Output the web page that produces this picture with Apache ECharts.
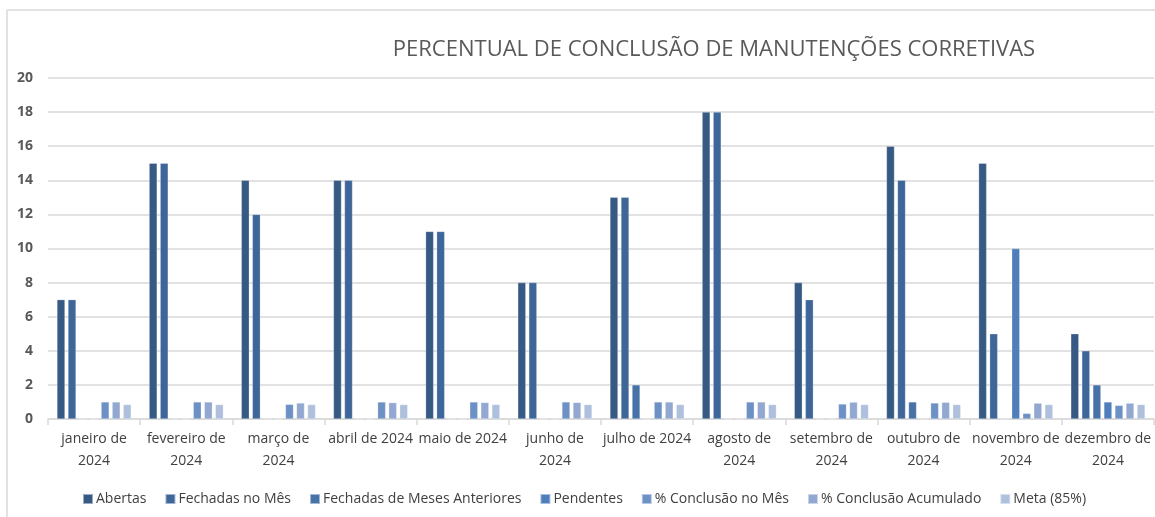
<!DOCTYPE html>
<html>
<head>
<meta charset="utf-8">
<script src="https://cdn.jsdelivr.net/npm/echarts@6/dist/echarts.min.js"></script>
<style>
  html, body { margin: 0; padding: 0; background: #fff; }
  #chart { width: 1155px; height: 517px; }
</style>
</head>
<body>
<div id="chart"></div>
<script>
  // meses (quebra de linha igual ao original)
  const categories = [
    'janeiro de\n2024', 'fevereiro de\n2024', 'março de\n2024', 'abril de 2024',
    'maio de 2024', 'junho de\n2024', 'julho de 2024', 'agosto de\n2024',
    'setembro de\n2024', 'outubro de\n2024', 'novembro de\n2024', 'dezembro de\n2024'
  ]
  const seriesNames = [
    'Abertas', 'Fechadas no Mês', 'Fechadas de Meses Anteriores', 'Pendentes',
    '% Conclusão no Mês', '% Conclusão Acumulado', 'Meta (85%)'
  ]
  const abertas = [7, 15, 14, 14, 11, 8, 13, 18, 8, 16, 15, 5]
  const fechadasMes = [7, 15, 12, 14, 11, 8, 13, 18, 7, 14, 5, 4]
  const fechadasAnteriores = [0, 0, 0, 0, 0, 0, 2, 0, 0, 1, 0, 2]
  const pendentes = [0, 0, 0, 0, 0, 0, 0, 0, 0, 0, 10, 1]
  const conclusaoMes = [1, 1, 0.86, 1, 1, 1, 1, 1, 0.88, 0.94, 0.33, 0.8]
  const conclusaoAcum = [1, 1, 0.94, 0.96, 0.97, 0.97, 1, 1, 0.99, 0.98, 0.93, 0.93]
  const meta = [0.85, 0.85, 0.85, 0.85, 0.85, 0.85, 0.85, 0.85, 0.85, 0.85, 0.85, 0.85]
  const yTicks = [0, 2, 4, 6, 8, 10, 12, 14, 16, 18, 20]

  const colors = ['#375a85', '#3e6699', '#4672a8', '#4f7fba', '#6d91c5', '#93a8d0', '#afc0dd']
  const values = [abertas, fechadasMes, fechadasAnteriores, pendentes, conclusaoMes, conclusaoAcum, meta]

  const myChart = echarts.init(document.getElementById('chart'))
  const font = '"Open Sans", "Noto Sans", sans-serif'

  let option = {
    animation: false,
    color: colors,
    textStyle: { fontFamily: font },
    title: {
      text: 'PERCENTUAL DE CONCLUSÃO DE MANUTENÇÕES CORRETIVAS',
      left: 709,
      textAlign: 'center',
      top: 34,
      textStyle: { fontFamily: font, fontSize: 22, fontWeight: 'normal', color: '#595959' }
    },
    legend: {
      data: seriesNames,
      left: 82,
      top: 492,
      padding: 0,
      itemWidth: 10,
      itemHeight: 10,
      itemGap: 18,
      icon: 'rect',
      textStyle: { fontFamily: font, fontSize: 14, color: '#404040', padding: [0, 0, 0, -2] }
    },
    graphic: [
      { type: 'line', shape: { x1: 7, y1: 10, x2: 1155, y2: 10 }, style: { stroke: '#d9d9d9', lineWidth: 1.5 } },
      { type: 'line', shape: { x1: 7, y1: 10, x2: 7, y2: 517 }, style: { stroke: '#d9d9d9', lineWidth: 1.5 } }
    ],
    grid: { left: 48, right: 1, top: 78, bottom: 98, containLabel: false },
    xAxis: {
      type: 'category',
      data: categories,
      axisLine: { lineStyle: { color: '#d9d9d9', width: 1.5 } },
      axisTick: { show: true, length: 6, lineStyle: { color: '#d9d9d9', width: 1.5 } },
      axisLabel: { color: '#404040', fontSize: 14, margin: 9, lineHeight: 22, interval: 0 }
    },
    yAxis: {
      type: 'value',
      min: yTicks[0],
      max: yTicks[yTicks.length - 1],
      interval: 2,
      axisLine: { show: false },
      axisTick: { show: false },
      axisLabel: { color: '#595959', fontSize: 14, fontWeight: 'bold', margin: 15 },
      splitLine: { lineStyle: { color: '#d9d9d9', width: 1.5 } }
    },
    series: []
  }

  for (let i = 0; i < seriesNames.length; i++) {
    option.series.push({
      name: seriesNames[i],
      type: 'bar',
      barWidth: 8,
      barGap: '38%',
      itemStyle: { color: colors[i], borderColor: 'rgba(255,255,255,0.5)', borderWidth: 0.5 },
      data: values[i]
    })
  }

  myChart.setOption(option)
</script>
</body>
</html>
